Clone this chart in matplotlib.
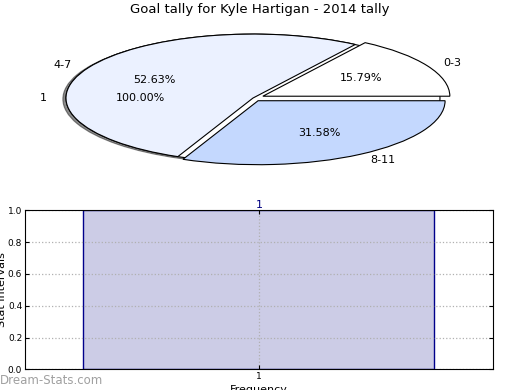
import matplotlib.pyplot as plt

title = "Goal tally for Kyle Hartigan - 2014 tally"
tally_labels = ["0-3", "4-7", "8-11"]
tally_values = [15.79, 52.63, 31.58]
total_labels = ["1"]
total_values = [1]
freq_labels = ["1"]
freq_values = [1]

fig = plt.figure(figsize=(5.2, 3.9), dpi=100)

# squashed pie, two pies drawn on top of each other
ax1 = fig.add_axes([0.037, 0.5436, 0.899, 0.41])
edge = dict(edgecolor="black", linewidth=0.8)
txt = dict(fontsize=8)
ax1.pie(total_values, labels=total_labels, colors=["white"], autopct="%.2f%%",
        shadow=dict(ox=-0.012, oy=-0.012, shade=0.9), startangle=0,
        wedgeprops=edge, textprops=txt)
ax1.pie(tally_values, labels=tally_labels, colors=["white", "#ebf1ff", "#c4d8fe"],
        explode=[0.06, 0, 0.05], autopct="%.2f%%", startangle=0,
        wedgeprops=edge, textprops=txt)
ax1.set_aspect("auto")
ax1.set_xlim(-1.25, 1.25)
ax1.set_ylim(-1.25, 1.25)

fig.text(0.5, 1 - 10 / 390, title, ha="center", va="center", fontsize=9.5)

# frequency bar
ax2 = fig.add_axes([0.048, 0.053, 0.9, 0.408])
bars = ax2.bar([1], freq_values, width=0.75, color="#ccccE6",
               edgecolor="#00008b", linewidth=1)
ax2.bar_label(bars, labels=freq_labels, color="#000080", fontsize=8, padding=0)
ax2.set_xlim(0.5, 1.5)
ax2.set_ylim(0, 1)
ax2.set_xticks([1])
ax2.set_xticklabels(freq_labels)
ax2.set_yticks([0, 0.2, 0.4, 0.6, 0.8, 1.0])
ax2.tick_params(direction="in", labelsize=6.5, top=True, right=True, length=3, pad=2)
ax2.grid(True, linestyle=":", color="#b0b0b0", linewidth=0.9)
ax2.set_ylabel("Stat Intervals", fontsize=8)
ax2.yaxis.set_label_coords(-0.038, 0.5)
ax2.set_xlabel("Frequency", fontsize=8)
ax2.xaxis.set_label_coords(0.5, -0.1)

fig.text(0.0, 1 - 380 / 390, "Dream-Stats.com", ha="left", va="center",
         color="#a0a0a0", fontsize=8.5)

fig.savefig("out.png", dpi=100)
